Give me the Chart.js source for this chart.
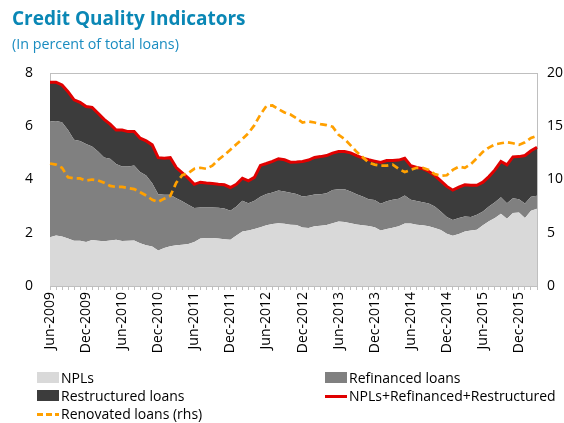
<!DOCTYPE html>
<html>
<head>
<meta charset="utf-8">
<script src="https://cdn.jsdelivr.net/npm/chart.js@4.4.1/dist/chart.umd.min.js"></script>
<style>
  body { margin: 0; background: #fff; }
  #wrap { position: relative; width: 564px; height: 423px; overflow: hidden; font-family: "Open Sans", sans-serif; }
  #chart { position: absolute; left: 0; top: 0; }
  .title { position: absolute; left: 12px; top: 5px; font-size: 19px; font-weight: bold; color: #0a87b5; white-space: nowrap; }
  .sub { position: absolute; left: 12px; top: 34px; font-size: 14.3px; color: #1a8cc0; white-space: nowrap; }
  .item { position: absolute; font-size: 14px; color: #000; white-space: nowrap; line-height: 18px; }
  .item .key { position: absolute; left: -24px; top: 3px; width: 22px; height: 11px; }
  .item .line { position: absolute; left: -24px; top: 8px; width: 22px; height: 3px; }
</style>
</head>
<body>
<div id="wrap">
  <canvas id="chart" width="564" height="423"></canvas>
  <div class="title">Credit Quality Indicators</div>
  <div class="sub">(In percent of total loans)</div>
  <div class="item" style="left:61px;top:369px"><span class="key" style="background:#d9d9d9"></span>NPLs</div>
  <div class="item" style="left:349px;top:369px"><span class="key" style="background:#808080"></span>Refinanced loans</div>
  <div class="item" style="left:61px;top:387px"><span class="key" style="background:#3c3c3c"></span>Restructured loans</div>
  <div class="item" style="left:349px;top:387px"><span class="line" style="background:#e00000"></span>NPLs+Refinanced+Restructured</div>
  <div class="item" style="left:61px;top:405px"><span class="line" style="height:3px;background:repeating-linear-gradient(90deg,#ffa000 0 6px,transparent 6px 9px)"></span>Renovated loans (rhs)</div>
</div>
<script>
// monthly, Jun-2009 .. Mar-2016
const startYear = 2009;
const startMonth = 5; // June
const nMonths = 82;
const monthNames = ["Jan", "Feb", "Mar", "Apr", "May", "Jun", "Jul", "Aug", "Sep", "Oct", "Nov", "Dec"];

// percent of total loans (lhs)
const npls = [
  1.83, 1.9, 1.86, 1.78, 1.7, 1.7, 1.65, 1.73, 1.7, 1.68, 1.71, 1.74, 1.69, 1.7, 1.71, 1.61,
  1.53, 1.48, 1.33, 1.43, 1.49, 1.53, 1.55, 1.58, 1.65, 1.78, 1.8, 1.8, 1.78, 1.76, 1.74, 1.9,
  2.05, 2.08, 2.14, 2.21, 2.28, 2.33, 2.36, 2.34, 2.3, 2.29, 2.2, 2.18, 2.24, 2.26, 2.29, 2.36,
  2.42, 2.4, 2.36, 2.31, 2.28, 2.25, 2.21, 2.08, 2.14, 2.19, 2.24, 2.35, 2.35, 2.3, 2.28, 2.24,
  2.18, 2.1, 1.96, 1.89, 1.95, 2.05, 2.08, 2.11, 2.28, 2.43, 2.55, 2.71, 2.53, 2.74, 2.76, 2.55,
  2.83, 2.9
];
const refinanced = [
  4.35, 4.3, 4.29, 4.08, 3.79, 3.75, 3.68, 3.51, 3.35, 3.15, 3.07, 2.84, 2.8, 2.79, 2.82, 2.67,
  2.62, 2.38, 2.12, 2.0, 1.94, 1.77, 1.63, 1.47, 1.28, 1.17, 1.15, 1.15, 1.16, 1.15, 1.09, 1.09,
  1.15, 1.03, 1.06, 1.14, 1.18, 1.18, 1.23, 1.21, 1.2, 1.17, 1.16, 1.21, 1.2, 1.19, 1.19, 1.25,
  1.21, 1.23, 1.19, 1.14, 1.08, 1.01, 1.02, 1.01, 1.04, 1.05, 1.04, 1.05, 0.89, 0.89, 0.87, 0.86,
  0.81, 0.7, 0.63, 0.59, 0.6, 0.56, 0.51, 0.57, 0.52, 0.56, 0.6, 0.62, 0.58, 0.56, 0.5, 0.55,
  0.52, 0.49
];
const restructured = [
  1.47, 1.45, 1.4, 1.44, 1.5, 1.45, 1.41, 1.47, 1.44, 1.43, 1.3, 1.28, 1.37, 1.31, 1.27, 1.27,
  1.3, 1.44, 1.37, 1.37, 1.39, 1.15, 1.07, 1.0, 0.89, 0.95, 0.92, 0.9, 0.88, 0.89, 0.87, 0.83,
  0.85, 0.84, 0.88, 1.18, 1.14, 1.17, 1.19, 1.19, 1.15, 1.2, 1.32, 1.34, 1.39, 1.41, 1.42, 1.38,
  1.42, 1.42, 1.45, 1.45, 1.44, 1.48, 1.46, 1.55, 1.53, 1.47, 1.45, 1.4, 1.28, 1.26, 1.26, 1.2,
  1.16, 1.15, 1.15, 1.12, 1.16, 1.19, 1.19, 1.1, 1.1, 1.12, 1.21, 1.35, 1.44, 1.55, 1.6, 1.8,
  1.73, 1.82
];
// rhs
const renovated = [
  11.5, 11.4, 11.1, 10.2, 10.1, 10.1, 9.9, 10.0, 9.9, 9.7, 9.4, 9.3, 9.3, 9.2, 9.1, 8.8,
  8.5, 8.1, 7.9, 8.2, 8.45, 9.7, 10.4, 10.6, 11.0, 11.1, 11.0, 11.3, 11.85, 12.3, 12.8, 13.3,
  13.8, 14.35, 15.1, 16.1, 16.9, 16.95, 16.6, 16.3, 16.1, 15.75, 15.35, 15.45, 15.35, 15.2, 15.1, 14.95,
  14.2, 13.8, 13.2, 12.6, 12.1, 11.6, 11.4, 11.3, 11.3, 11.4, 11.0, 10.7, 10.9, 11.1, 11.1, 10.9,
  10.5, 10.35, 10.4, 10.9, 11.2, 11.1, 11.45, 12.0, 12.6, 13.0, 13.3, 13.4, 13.5, 13.4, 13.25, 13.5,
  13.9, 14.1
];

const labels = [];
for (let i = 0; i < nMonths; i++) {
  const m = (startMonth + i) % 12;
  const y = startYear + Math.floor((startMonth + i) / 12);
  labels.push(monthNames[m] + "-" + y);
}
const total = npls.map((v, i) => +(v + refinanced[i] + restructured[i]).toFixed(2));

const axisGrey = "#bfbfbf";
const tickFont = { family: "Open Sans", size: 14 };

// plot frame (top edge of the Excel-like box)
const frame = {
  id: "frame",
  afterDatasetsDraw(chart) {
    const a = chart.chartArea;
    const ctx = chart.ctx;
    ctx.save();
    ctx.strokeStyle = axisGrey;
    ctx.lineWidth = 1;
    ctx.beginPath();
    ctx.moveTo(a.left, a.top + 0.5);
    ctx.lineTo(a.right, a.top + 0.5);
    ctx.stroke();
    ctx.restore();
  }
};

new Chart(document.getElementById("chart"), {
  type: "line",
  data: {
    labels: labels,
    datasets: [
      { label: "NPLs", data: npls, order: 2, fill: "origin", backgroundColor: "#d9d9d9", borderWidth: 0, pointRadius: 0, stack: "a" },
      { label: "Refinanced loans", data: refinanced, order: 3, fill: "-1", backgroundColor: "#808080", borderWidth: 0, pointRadius: 0, stack: "a" },
      { label: "Restructured loans", data: restructured, order: 4, fill: "-1", backgroundColor: "#3c3c3c", borderWidth: 0, pointRadius: 0, stack: "a" },
      { label: "NPLs+Refinanced+Restructured", data: total, order: 1, fill: false, borderColor: "#e00000", borderWidth: 3, pointRadius: 0, stack: "b" },
      { label: "Renovated loans (rhs)", data: renovated, order: 0, yAxisID: "y2", fill: false, borderColor: "#ffa000", borderWidth: 2.7, borderDash: [7, 4], pointRadius: 0 }
    ]
  },
  options: {
    responsive: false,
    animation: false,
    devicePixelRatio: 1,
    layout: { padding: { top: 73, left: 0, right: 0, bottom: 60 } },
    plugins: { legend: { display: false }, tooltip: { enabled: false } },
    elements: { line: { tension: 0 } },
    scales: {
      x: {
        offset: false,
        grid: { display: true, drawOnChartArea: false, tickLength: 4, color: axisGrey },
        border: { color: axisGrey },
        ticks: {
          autoSkip: false, maxRotation: 90, minRotation: 90, padding: 2, color: "#000", font: tickFont,
          callback: function (v) {
            const l = this.getLabelForValue(v);
            return (l.startsWith("Jun") || l.startsWith("Dec")) ? l : "";
          }
        },
        afterFit: (s) => { s.height = 77; }
      },
      y: {
        stacked: true, min: 0, max: 8,
        grid: { drawOnChartArea: false, drawTicks: false },
        border: { color: axisGrey },
        ticks: { stepSize: 2, padding: 17, color: "#000", font: tickFont },
        afterFit: (s) => { s.width = 50; }
      },
      y2: {
        position: "right", min: 0, max: 20,
        grid: { drawOnChartArea: false, drawTicks: false },
        border: { color: axisGrey },
        ticks: { stepSize: 5, padding: 10, color: "#000", font: tickFont },
        afterFit: (s) => { s.width = 27; }
      }
    }
  },
  plugins: [frame]
});
</script>
</body>
</html>
